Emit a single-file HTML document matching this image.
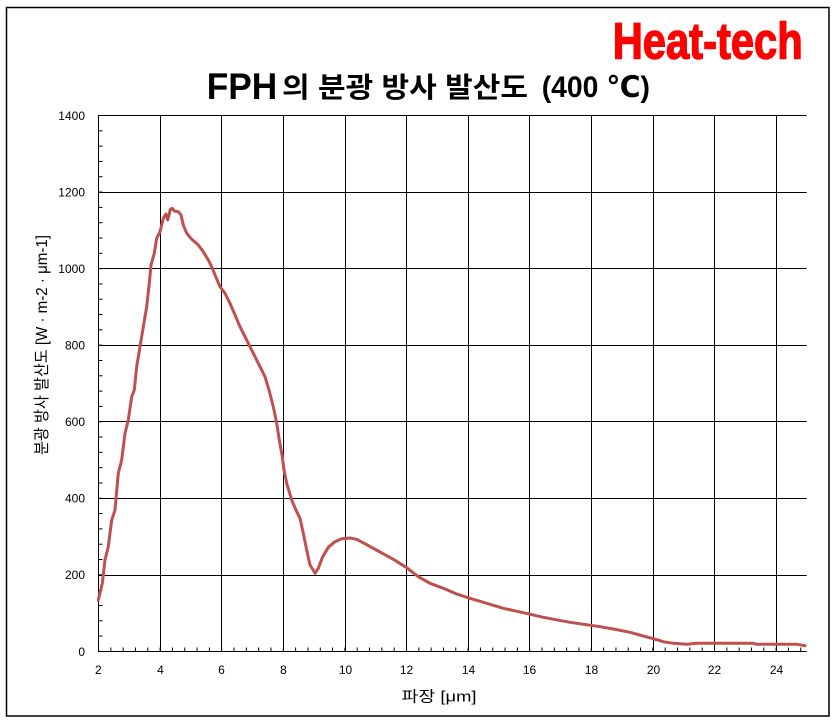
<!DOCTYPE html>
<html>
<head>
<meta charset="utf-8">
<style>
  html, body { margin:0; padding:0; background:#fff; }
  body { width:838px; height:724px; overflow:hidden; }
  svg { display:block; }
  .tick { font-family:"Liberation Sans","Noto Sans CJK KR",sans-serif; font-size:12px; fill:#000; }
</style>
</head>
<body>
<svg width="838" height="724" viewBox="0 0 838 724" xmlns="http://www.w3.org/2000/svg">
  <defs>
    <pattern id="xt" patternUnits="userSpaceOnUse" x="98" y="0" width="12.32" height="724">
      <rect x="0" y="0" width="1" height="724" fill="#000"/>
    </pattern>
    <pattern id="yt" patternUnits="userSpaceOnUse" x="0" y="115" width="838" height="15.311">
      <rect x="0" y="0" width="838" height="1" fill="#000"/>
    </pattern>
  </defs>
  <rect x="0" y="0" width="838" height="724" fill="#fff"/>
  <!-- outer frame -->
  <rect x="6.5" y="7.5" width="822.5" height="708.5" fill="none" stroke="#000" stroke-width="1.5"/>

  <!-- Heat-tech -->
  <text x="612.7" y="58.3" font-family="'Liberation Sans', sans-serif" font-weight="bold" font-size="51" fill="#ff0000" stroke="#ff0000" stroke-width="1.4" textLength="190" lengthAdjust="spacingAndGlyphs">Heat-tech</text>

  <!-- Title -->
  <text x="206.7" y="99" font-family="'Liberation Sans', sans-serif" font-weight="bold" font-size="37" fill="#000" textLength="70.6" lengthAdjust="spacingAndGlyphs">FPH</text>
  <text x="282" y="97" font-family="'Liberation Sans','Noto Sans CJK KR',sans-serif" font-weight="bold" font-size="28" fill="#000" textLength="246" lengthAdjust="spacingAndGlyphs">의 분광 방사 발산도</text>
  <text x="541.7" y="97" font-family="'Liberation Sans','DejaVu Sans','Noto Sans CJK KR',sans-serif" font-weight="bold" font-size="30" fill="#000" textLength="108.3" lengthAdjust="spacingAndGlyphs">(400 ℃)</text>

  <!-- gridlines -->
  <g stroke="#000" stroke-width="1">
    <line x1="98.5" y1="115.5" x2="806.7" y2="115.5"/>
    <line x1="98.5" y1="192.5" x2="806.7" y2="192.5"/>
    <line x1="98.5" y1="268.5" x2="806.7" y2="268.5"/>
    <line x1="98.5" y1="345.5" x2="806.7" y2="345.5"/>
    <line x1="98.5" y1="421.5" x2="806.7" y2="421.5"/>
    <line x1="98.5" y1="498.5" x2="806.7" y2="498.5"/>
    <line x1="98.5" y1="575.5" x2="806.7" y2="575.5"/>
    <line x1="160.5" y1="115.5" x2="160.5" y2="651.5"/>
    <line x1="221.5" y1="115.5" x2="221.5" y2="651.5"/>
    <line x1="283.5" y1="115.5" x2="283.5" y2="651.5"/>
    <line x1="345.5" y1="115.5" x2="345.5" y2="651.5"/>
    <line x1="406.5" y1="115.5" x2="406.5" y2="651.5"/>
    <line x1="468.5" y1="115.5" x2="468.5" y2="651.5"/>
    <line x1="529.5" y1="115.5" x2="529.5" y2="651.5"/>
    <line x1="591.5" y1="115.5" x2="591.5" y2="651.5"/>
    <line x1="653.5" y1="115.5" x2="653.5" y2="651.5"/>
    <line x1="714.5" y1="115.5" x2="714.5" y2="651.5"/>
    <line x1="776.5" y1="115.5" x2="776.5" y2="651.5"/>
    <!-- axes -->
    <line x1="98.5" y1="115" x2="98.5" y2="652"/>
    <line x1="98" y1="651.5" x2="806.7" y2="651.5"/>
  </g>
  <!-- minor ticks -->
  <rect x="98" y="647.5" width="709.5" height="4" fill="url(#xt)"/>
  <rect x="98.5" y="115" width="4" height="536.5" fill="url(#yt)"/>

  <!-- y tick labels -->
  <g class="tick" text-anchor="end">
    <text x="85" y="120">1400</text>
    <text x="85" y="196.5">1200</text>
    <text x="85" y="273">1000</text>
    <text x="85" y="349.6">800</text>
    <text x="85" y="426.1">600</text>
    <text x="85" y="502.7">400</text>
    <text x="85" y="579.2">200</text>
    <text x="85" y="655.8">0</text>
  </g>
  <!-- x tick labels -->
  <g class="tick" text-anchor="middle">
    <text x="98.3" y="674">2</text>
    <text x="160.5" y="674">4</text>
    <text x="221.5" y="674">6</text>
    <text x="283.5" y="674">8</text>
    <text x="345.5" y="674">10</text>
    <text x="406.5" y="674">12</text>
    <text x="468.5" y="674">14</text>
    <text x="529.5" y="674">16</text>
    <text x="591.5" y="674">18</text>
    <text x="653.5" y="674">20</text>
    <text x="714.5" y="674">22</text>
    <text x="776.5" y="674">24</text>
  </g>

  <!-- axis titles -->
  <text x="439" y="701.5" text-anchor="middle" font-family="'Liberation Sans','Noto Sans CJK KR',sans-serif" font-size="15" fill="#000" textLength="75" lengthAdjust="spacingAndGlyphs">파장 [μm]</text>
  <text transform="translate(47,345) rotate(-90)" x="0" y="0" text-anchor="middle" font-family="'Liberation Sans','Noto Sans CJK KR',sans-serif" font-size="16" fill="#000" textLength="220" lengthAdjust="spacingAndGlyphs">분광 방사 발산도 [W · m-2 · μm-1]</text>

  <!-- series -->
  <polyline fill="none" stroke="#c0504d" stroke-width="3" stroke-linejoin="round" stroke-linecap="round" points="
98.3,600 102.3,583.3 105,560 108.3,546.7 111.7,520 115,510 118.3,473.3 121.7,460 125,433.3 128.3,420
131.7,396.7 134.3,390 136.7,366.7 140,346.7 143.3,326.7 146.7,306.7 149.3,283.3 151,265 154.3,253.3
156.7,238.3 160,231.7 163.3,218.3 166,214 167.7,220 169,215 170.3,209.3 172.3,208.3 174.3,211
178.3,211.7 181,215 183.3,225 186.7,233.3 191.7,239.3 198.3,245 203.3,251.7 208.3,260 211.7,266.7
215.7,276.7 220,286.7 225,293.3 230,303.3 235,315 240,326.7 245,336.7 250,346.7 255,356.7 260,366.7
265,376.7 269,390 273.3,406.7 276.7,423.3 279.3,440 282.3,456.7 284,470 286.7,483.3 291.7,500
296.7,511.7 300,518.3 303.3,533.3 306.7,550 310,565 312.7,569.3 315,573.3 318.3,568.3 322.7,556.7
328.3,547.3 335,541.7 341.7,538.7 350,538 356.7,539.3 366.7,544.7 380,552 393.3,559.3 406.7,567.7
418.3,576.7 430,583.3 443.3,588.3 456.7,594 470,598.3 486.7,603.3 503.3,608.3 523.3,612.7 543.3,617.3
570,622.3 600,626.7 613.3,629 630,632.3 643.3,636 653.3,638.7 663.3,641.7 673.3,643.3 686.7,644.3
696.7,643.3 713.3,643.3 753.3,643.3 756.7,644.3 796.7,644.3 805,645.7"/>
</svg>
</body>
</html>
